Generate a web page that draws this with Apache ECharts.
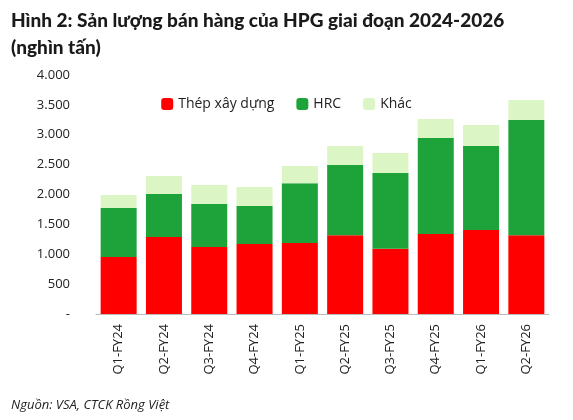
<!DOCTYPE html>
<html>
<head>
<meta charset="utf-8">
<title>HPG</title>
<script src="https://cdn.jsdelivr.net/npm/echarts@6/dist/echarts.min.js"></script>
<style>
  html, body { margin: 0; padding: 0; background: #fff; }
  #chart { width: 573px; height: 420px; }
</style>
</head>
<body>
<div id="chart"></div>
<script>
var quarters = ['Q1-FY24', 'Q2-FY24', 'Q3-FY24', 'Q4-FY24', 'Q1-FY25', 'Q2-FY25', 'Q3-FY25', 'Q4-FY25', 'Q1-FY26', 'Q2-FY26'];
var thep = [954, 1290, 1120, 1170, 1190, 1320, 1090, 1340, 1405, 1320];
var hrc = [820, 718, 720, 637, 1000, 1174, 1270, 1605, 1407, 1927];
var khac = [216, 302, 320, 318, 287, 316, 335, 319, 351, 333];

function fmt(v) {
    if (v === 0) return '-';
    return String(v).replace(/\B(?=(\d{3})+(?!\d))/g, '.');
}

var myChart = echarts.init(document.getElementById('chart'));
var option = {
    animation: false,
    textStyle: { fontFamily: 'Open Sans' },
    title: [{
        text: 'Hình 2: Sản lượng bán hàng của HPG giai đoạn 2024-2026\n(nghìn tấn)',
        left: 6, top: 2,
        textStyle: { fontSize: 19, fontWeight: 900, color: '#1a1a1a', lineHeight: 27, fontFamily: 'Lato' }
    }, {
        text: 'Nguồn: VSA, CTCK Rồng Việt',
        left: 6, top: 394,
        textStyle: { fontSize: 13, fontWeight: 'normal', fontStyle: 'italic', color: '#222' }
    }],
    legend: {
        top: 92, left: 'center',
        itemWidth: 12, itemHeight: 12, itemGap: 22,
        textStyle: { fontSize: 14, color: '#222' },
        data: ['Thép xây dựng', 'HRC', 'Khác']
    },
    grid: { left: 96, right: 24, top: 75, bottom: 106 },
    xAxis: {
        type: 'category',
        data: quarters,
        axisLine: { lineStyle: { color: '#bbb' } },
        axisTick: { show: false },
        axisLabel: { rotate: 90, fontSize: 13, color: '#222', margin: 10 }
    },
    yAxis: {
        type: 'value',
        min: 0, max: 4000, interval: 500,
        splitLine: { show: false },
        axisLine: { show: false },
        axisTick: { show: false },
        axisLabel: { formatter: fmt, fontSize: 13, color: '#222', margin: 26 }
    },
    series: [
        { name: 'Thép xây dựng', type: 'bar', stack: 't', data: thep, barWidth: 36, itemStyle: { color: '#ff0000' } },
        { name: 'HRC', type: 'bar', stack: 't', data: hrc, itemStyle: { color: '#1ea33a' } },
        { name: 'Khác', type: 'bar', stack: 't', data: khac, itemStyle: { color: '#dcf5c4' } }
    ]
};
myChart.setOption(option);
</script>
</body>
</html>
